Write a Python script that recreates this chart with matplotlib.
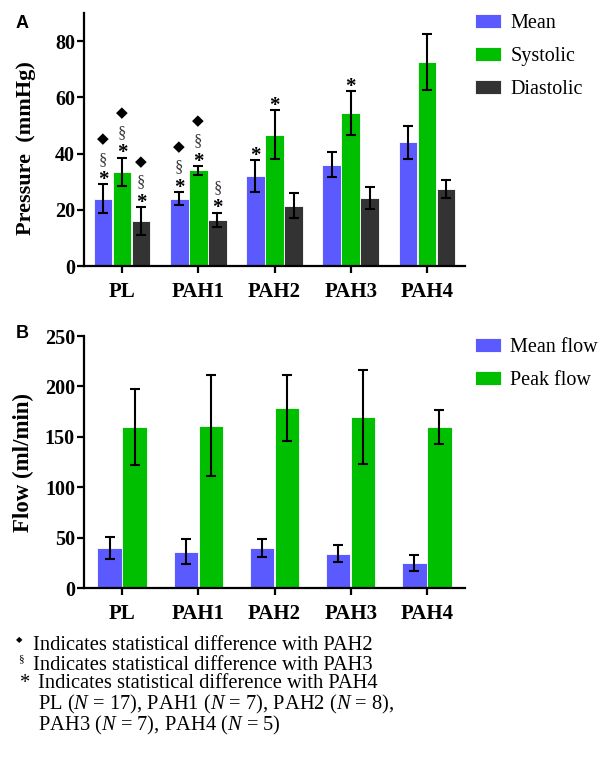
import numpy as np
import matplotlib.pyplot as plt

plt.rcParams['font.family'] = ['Liberation Serif', 'DejaVu Sans']
plt.rcParams['mathtext.fontset'] = 'custom'
plt.rcParams['mathtext.rm'] = 'Liberation Serif'
plt.rcParams['mathtext.it'] = 'Liberation Serif:italic'

groups = ['PL', 'PAH1', 'PAH2', 'PAH3', 'PAH4']

# panel A: pressure (mmHg), mean +/- error
mean_p = [24, 24, 32, 36, 44]
mean_p_err = [5, 2.3, 5.6, 4.5, 5.8]
sys_p = [33.5, 34, 46.7, 54.4, 72.6]
sys_p_err = [5, 1.6, 8.8, 7.7, 10.1]
dia_p = [16, 16.4, 21.4, 24.2, 27.5]
dia_p_err = [5, 2.6, 4.4, 4, 3.2]

# panel B: flow (ml/min)
mean_flow = [40, 36, 40, 34, 25]
mean_flow_err = [11, 12.5, 9, 8.5, 8]
peak_flow = [160, 161, 178.6, 169.6, 159.7]
peak_flow_err = [37.5, 50, 33, 47, 16.5]

# significance marks: (group index, series, symbols from bottom to top)
sig_marks = [
    (0, 'Mean', '*§◆'), (0, 'Systolic', '*§◆'), (0, 'Diastolic', '*§◆'),
    (1, 'Mean', '*§◆'), (1, 'Systolic', '*§◆'), (1, 'Diastolic', '*§'),
    (2, 'Mean', '*'), (2, 'Systolic', '*'),
    (3, 'Systolic', '*'),
]

BLUE = '#5a5aff'
GREEN = '#00bf00'
DARK = '#333333'

fig = plt.figure(figsize=(6.03, 7.69), dpi=100)
axA = fig.add_axes([84/603, 1-266/769, 381/603, 253/769])
axB = fig.add_axes([84/603, 1-588/769, 381/603, 252/769])

x = np.arange(len(groups))
err_kw = dict(ecolor='black', elinewidth=1.5, capsize=3.6, capthick=1.5)


def style_axis(ax, ylim, yticks):
    ax.set_xlim(-0.5, 4.5)
    ax.set_ylim(*ylim)
    ax.set_yticks(yticks)
    ax.set_xticks(x)
    ax.set_xticklabels(groups)
    for s in ['top', 'right']:
        ax.spines[s].set_visible(False)
    for s in ['left', 'bottom']:
        ax.spines[s].set_linewidth(1.6)
    ax.tick_params(width=1.6, length=5, direction='out')
    ax.tick_params(axis='y', pad=1.5)
    ax.tick_params(axis='x', pad=6.5)
    for lab in ax.get_yticklabels():
        lab.set_fontweight('bold')
        lab.set_fontsize(14.5)
    for lab in ax.get_xticklabels():
        lab.set_fontweight('bold')
        lab.set_fontsize(15)


# --- panel A
w = 0.245
series_A = {
    'Mean': (mean_p, mean_p_err, BLUE, -0.25),
    'Systolic': (sys_p, sys_p_err, GREEN, 0.0),
    'Diastolic': (dia_p, dia_p_err, DARK, 0.25),
}
for name, (vals, errs, col, off) in series_A.items():
    axA.bar(x + off, vals, w, yerr=errs, color=col, edgecolor='white',
            linewidth=0.6, label=name, error_kw=err_kw)

style_axis(axA, (0, 90), [0, 20, 40, 60, 80])

for gi, name, syms in sig_marks:
    vals, errs, col, off = series_A[name]
    top = vals[gi] + errs[gi]
    for s in syms:
        if s == '*':
            axA.annotate(s, (gi + off, top), xytext=(0, -0.5), textcoords='offset points',
                         ha='center', va='baseline', fontsize=15, fontweight='bold')
        elif s == '§':
            axA.annotate(s, (gi + off, top), xytext=(0, 15), textcoords='offset points',
                         ha='center', va='baseline', fontsize=12, color='#3a3a3a')
        else:
            axA.annotate(s, (gi + off, top), xytext=(0, 29.5), textcoords='offset points',
                         ha='center', va='baseline', fontsize=11,
                         family=['DejaVu Sans'])

leg_kw = dict(loc='upper left', bbox_transform=fig.transFigure, frameon=False,
              fontsize=14.5, handlelength=1.3, handleheight=0.65, labelspacing=0.7,
              handletextpad=0.45, borderaxespad=0, borderpad=0)
axA.legend(bbox_to_anchor=(475/603, 1-14/769), **leg_kw)

# --- panel B
wb = 0.32
axB.bar(x - 0.165, mean_flow, wb, yerr=mean_flow_err, color=BLUE, edgecolor='white',
        linewidth=0.6, label='Mean flow', error_kw=err_kw)
axB.bar(x + 0.165, peak_flow, wb, yerr=peak_flow_err, color=GREEN, edgecolor='white',
        linewidth=0.6, label='Peak flow', error_kw=err_kw)
style_axis(axB, (0, 250), [0, 50, 100, 150, 200, 250])

axB.legend(bbox_to_anchor=(475/603, 1-338/769), **leg_kw)

# axis labels and panel letters
fig.text(26/603, 1-148/769, 'Pressure  (mmHg)', rotation=90, ha='center', va='center',
         fontsize=16, fontweight='bold')
fig.text(23/603, 1-463/769, 'Flow (ml/min)', rotation=90, ha='center', va='center',
         fontsize=16.5, fontweight='bold')
fig.text(22/603, 1-24/769, 'A', ha='center', va='center', fontsize=13,
         fontweight='bold', family=['Liberation Sans'])
fig.text(22/603, 1-333/769, 'B', ha='center', va='center', fontsize=13,
         fontweight='bold', family=['Liberation Sans'])

# footnote
fs = 14.8
fig.text(19/603, 1-640/769, '◆', ha='center', va='center', fontsize=6,
         family=['DejaVu Sans'])
fig.text(33/603, 1-645/769, 'Indicates statistical difference with PAH2',
         ha='left', va='center', fontsize=fs)
fig.text(21/603, 1-659/769, '§', ha='center', va='center', fontsize=8)
fig.text(33/603, 1-665/769, 'Indicates statistical difference with PAH3',
         ha='left', va='center', fontsize=fs)
fig.text(20/603, 1-684/769, '*', ha='left', va='center', fontsize=fs)
fig.text(38/603, 1-684/769, 'Indicates statistical difference with PAH4',
         ha='left', va='center', fontsize=fs)
fig.text(38/603, 1-704/769, 'PL ($N$ = 17), PAH1 ($N$ = 7), PAH2 ($N$ = 8),',
         ha='left', va='center', fontsize=fs)
fig.text(38/603, 1-725/769, 'PAH3 ($N$ = 7), PAH4 ($N$ = 5)',
         ha='left', va='center', fontsize=fs)

fig.savefig('out.png', dpi=100)
